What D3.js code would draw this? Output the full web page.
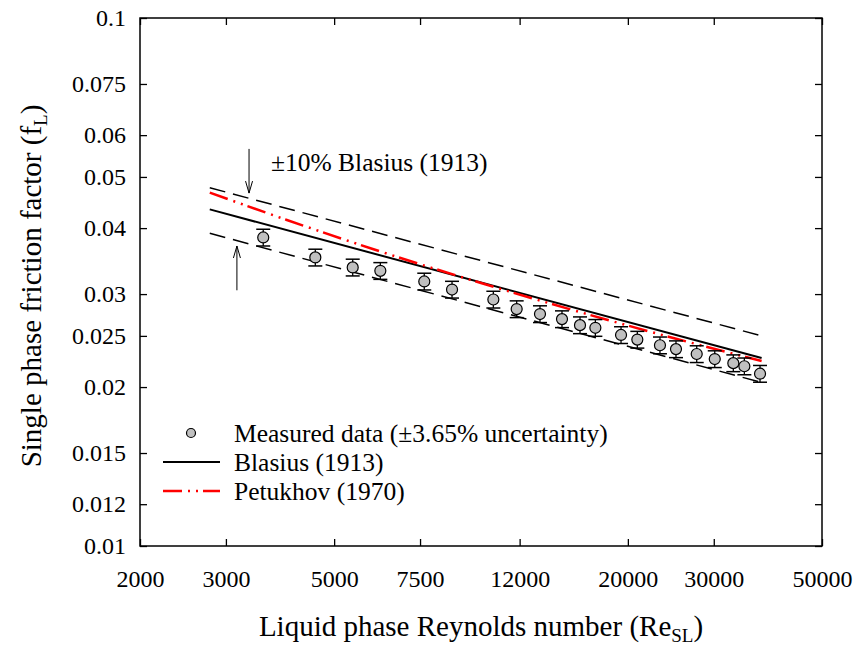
<!DOCTYPE html>
<html><head><meta charset="utf-8">
<script src="https://cdn.jsdelivr.net/npm/d3@7"></script>
<style>
html,body{margin:0;padding:0;background:#fff;}
svg{display:block;}
text{font-family:"Liberation Serif","Times New Roman",serif;fill:#000;}
</style></head>
<body>
<script>
// ---- data ----
const reMeasured = [3578, 4575, 5458, 6218, 7651, 8722, 10600, 11834, 13210, 14656, 15956, 17156, 19366, 20914, 23272, 25100, 27680, 30140, 32900, 34660, 37320];
const fMeasured  = [0.0384, 0.0352, 0.0337, 0.0332, 0.0317, 0.0306, 0.0293, 0.0281, 0.0275, 0.0269, 0.0262, 0.0259, 0.0251, 0.0246, 0.0240, 0.0236, 0.0231, 0.0226, 0.0222, 0.0219, 0.0212];
const uncertainty = 0.0365;
const reBlasius = [2780, 37600];
const fBlasius  = [0.0434, 0.0227];
const fBlasiusUpper = [0.0477, 0.0250];
const fBlasiusLower = [0.0391, 0.0204];
const rePetukhov = [2780, 4000, 6000, 10000, 15000, 25000, 37600];
const fPetukhov  = [0.0467, 0.04145, 0.03652, 0.03148, 0.02819, 0.02472, 0.02240];
const xTicks = [2000, 3000, 5000, 7500, 12000, 20000, 30000, 50000];
const yTicks = [0.01, 0.012, 0.015, 0.02, 0.025, 0.03, 0.04, 0.05, 0.06, 0.075, 0.1];
const legendLabels = ["Measured data (\u00b13.65% uncertainty)", "Blasius (1913)", "Petukhov (1970)"];
const annotationText = "\u00b110% Blasius (1913)";
const arrowDown = {re: 3346, f0: 0.0565, f1: 0.0466};
const arrowUp = {re: 3160, f0: 0.0305, f1: 0.0370};

// ---- layout ----
const W = 856, H = 648;
const L = 140, R = 822, T = 18, B = 546;
const fs = 24, fsLeg = 25.5, fsTitle = 29;

const svg = d3.select("body").append("svg").attr("width", W).attr("height", H);
svg.append("rect").attr("width", W).attr("height", H).attr("fill", "#fff");

const x = d3.scaleLog().domain([2000, 50000]).range([L, R]);
const y = d3.scaleLog().domain([0.01, 0.1]).range([B, T]);

const fmtY = d => String(d);
const axB = svg.append("g").attr("transform", `translate(0,${B})`)
  .call(d3.axisBottom(x).tickValues(xTicks).tickFormat(d3.format("d")).tickSizeInner(-7).tickSizeOuter(0).tickPadding(24));
const axT = svg.append("g").attr("transform", `translate(0,${T})`)
  .call(d3.axisTop(x).tickValues(xTicks).tickFormat("").tickSizeInner(-7).tickSizeOuter(0));
const axL = svg.append("g").attr("transform", `translate(${L},0)`)
  .call(d3.axisLeft(y).tickValues(yTicks).tickFormat(fmtY).tickSizeInner(-7).tickSizeOuter(0).tickPadding(14));
const axR = svg.append("g").attr("transform", `translate(${R},0)`)
  .call(d3.axisRight(y).tickValues(yTicks).tickFormat("").tickSizeInner(-7).tickSizeOuter(0));
[axB, axT, axL, axR].forEach(g => {
  g.attr("font-family", null);
  g.select(".domain").remove();
  g.selectAll(".tick line").attr("stroke", "#000").attr("stroke-width", 1.3);
  g.selectAll("text").attr("font-size", fs).attr("fill", "#000");
});
svg.append("rect").attr("x", L).attr("y", T).attr("width", R - L).attr("height", B - T)
  .attr("fill", "none").attr("stroke", "#000").attr("stroke-width", 1.5);

const line = d3.line().x(d => x(d[0])).y(d => y(d[1]));
const zip = (a, b) => a.map((v, i) => [v, b[i]]);

// ±10% dashed
svg.append("path").attr("d", line(zip(reBlasius, fBlasiusUpper))).attr("fill", "none")
  .attr("stroke", "#000").attr("stroke-width", 1.5).attr("stroke-dasharray", "16,8");
svg.append("path").attr("d", line(zip(reBlasius, fBlasiusLower))).attr("fill", "none")
  .attr("stroke", "#000").attr("stroke-width", 1.5).attr("stroke-dasharray", "16,8");
// Blasius
svg.append("path").attr("d", line(zip(reBlasius, fBlasius))).attr("fill", "none")
  .attr("stroke", "#000").attr("stroke-width", 2);
// Petukhov
svg.append("path").attr("d", d3.line().x(d => x(d[0])).y(d => y(d[1])).curve(d3.curveMonotoneX)(zip(rePetukhov, fPetukhov)))
  .attr("fill", "none").attr("stroke", "#ff0000").attr("stroke-width", 2.5).attr("stroke-dasharray", "19,6,2,6,2,5");

// measured data with error bars
const pts = zip(reMeasured, fMeasured);
const eb = svg.append("g");
const cap = 7;
pts.forEach(([re, f]) => {
  const cx = x(re), yt = y(f * (1 + uncertainty)), yb = y(f * (1 - uncertainty));
  eb.append("line").attr("x1", cx).attr("x2", cx).attr("y1", yt).attr("y2", yb).attr("stroke", "#000").attr("stroke-width", 1.3);
  eb.append("line").attr("x1", cx - cap).attr("x2", cx + cap).attr("y1", yt).attr("y2", yt).attr("stroke", "#000").attr("stroke-width", 1.5);
  eb.append("line").attr("x1", cx - cap).attr("x2", cx + cap).attr("y1", yb).attr("y2", yb).attr("stroke", "#000").attr("stroke-width", 1.5);
});
svg.append("g").selectAll("circle").data(pts).join("circle")
  .attr("cx", d => x(d[0])).attr("cy", d => y(d[1])).attr("r", 5.5)
  .attr("fill", "#c0c0c0").attr("stroke", "#000").attr("stroke-width", 1.2);

// arrows
function arrow(re, f0, f1) {
  const ax = x(re), y0 = y(f0), y1 = y(f1);
  const dir = y1 > y0 ? -1 : 1;
  svg.append("line").attr("x1", ax).attr("x2", ax).attr("y1", y0).attr("y2", y1).attr("stroke", "#000").attr("stroke-width", 1);
  svg.append("path").attr("d", `M${ax - 3.5},${y1 + dir * 12}L${ax},${y1}L${ax + 3.5},${y1 + dir * 12}`)
    .attr("fill", "none").attr("stroke", "#000").attr("stroke-width", 1);
}
arrow(arrowDown.re, arrowDown.f0, arrowDown.f1);
arrow(arrowUp.re, arrowUp.f0, arrowUp.f1);
svg.append("text").attr("x", 271).attr("y", 171).attr("font-size", fsLeg).text(annotationText);

// legend
const lg = svg.append("g");
lg.append("circle").attr("cx", 191).attr("cy", 433).attr("r", 4.5).attr("fill", "#c0c0c0").attr("stroke", "#000").attr("stroke-width", 1.2);
lg.append("line").attr("x1", 163).attr("x2", 220).attr("y1", 462).attr("y2", 462).attr("stroke", "#000").attr("stroke-width", 2);
lg.append("line").attr("x1", 163).attr("x2", 220).attr("y1", 491).attr("y2", 491).attr("stroke", "#ff0000").attr("stroke-width", 2.5).attr("stroke-dasharray", "19,6,2,6,2,5");
legendLabels.forEach((t, i) => {
  lg.append("text").attr("x", 234).attr("y", 442 + i * 29).attr("font-size", fsLeg).text(t);
});

// axis titles
const xt = svg.append("text").attr("x", 481).attr("y", 636).attr("text-anchor", "middle").attr("font-size", fsTitle);
xt.append("tspan").text("Liquid phase Reynolds number (Re");
xt.append("tspan").attr("font-size", 19).attr("dy", 6).text("SL");
xt.append("tspan").attr("dy", -6).text(")");

const yt = svg.append("text").attr("transform", "translate(41,286) rotate(-90)").attr("text-anchor", "middle").attr("font-size", fsTitle);
yt.append("tspan").text("Single phase friction factor (f");
yt.append("tspan").attr("font-size", 19).attr("dy", 6).text("L");
yt.append("tspan").attr("dy", -6).text(")");
</script>
</body></html>
